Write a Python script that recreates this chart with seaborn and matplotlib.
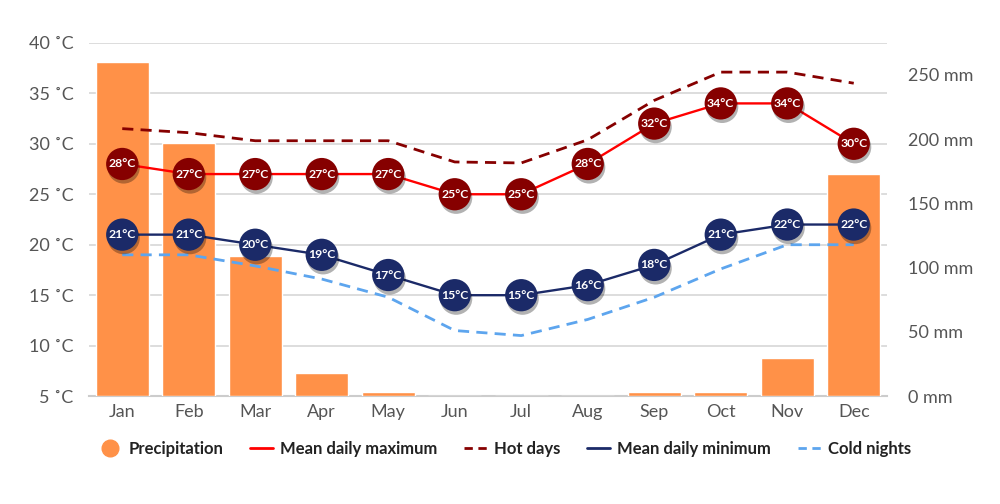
import numpy as np
import pandas as pd
import seaborn as sns
import matplotlib.pyplot as plt
import matplotlib.patheffects as pe
from matplotlib.lines import Line2D

# values
months = ["Jan", "Feb", "Mar", "Apr", "May", "Jun", "Jul", "Aug", "Sep", "Oct", "Nov", "Dec"]
precip_mm = [260, 197, 109, 18, 3, 0, 0, 0, 3, 3, 30, 173]
mean_max = [28, 27, 27, 27, 27, 25, 25, 28, 32, 34, 34, 30]
hot_days = [31.5, 31.1, 30.3, 30.3, 30.3, 28.2, 28.1, 30.4, 34.3, 37.1, 37.1, 36.0]
mean_min = [21, 21, 20, 19, 17, 15, 15, 16, 18, 21, 22, 22]
cold_nights = [19.0, 19.0, 17.9, 16.6, 14.8, 11.5, 11.0, 12.6, 14.8, 17.6, 20.0, 20.0]
temp_ticks = [5, 10, 15, 20, 25, 30, 35, 40]
precip_ticks = [0, 50, 100, 150, 200, 250]

orange = "#FF9148"
red = "#FF0000"
dark_red = "#860000"
navy = "#1B2A68"
light_blue = "#5DA5EE"
grey_txt = "#555555"

df = pd.DataFrame({
    "month": months,
    "x": np.arange(len(months)),
    "precip": precip_mm,
    "mean_max": mean_max,
    "hot_days": hot_days,
    "mean_min": mean_min,
    "cold_nights": cold_nights,
})

sns.set_theme(style="white")
plt.rcParams["font.family"] = ["Lato", "DejaVu Sans"]

fig = plt.figure(figsize=(10, 5.04), dpi=100)
ax_t = fig.add_axes([0.089, 0.214, 0.798, 0.701])
ax_p = ax_t.twinx()
ax_l = ax_t.twinx()

# precipitation bars (right axis)
sns.barplot(data=df, x="month", y="precip", color=orange, saturation=1,
            width=0.8, ax=ax_p)

# temperature lines
sns.lineplot(data=df, x="x", y="hot_days", color=dark_red, lw=2,
             linestyle=(0, (4, 2.6)), ax=ax_l)
sns.lineplot(data=df, x="x", y="cold_nights", color=light_blue, lw=2,
             linestyle=(0, (4, 2.6)), ax=ax_l)
sns.lineplot(data=df, x="x", y="mean_max", color=red, lw=1.7, ax=ax_l)
sns.lineplot(data=df, x="x", y="mean_min", color=navy, lw=1.7, ax=ax_l)

shadow = [pe.SimplePatchShadow(offset=(1, -2.5), shadow_rgbFace="black", alpha=0.3),
          pe.Normal()]
for col, c in [("mean_max", dark_red), ("mean_min", navy)]:
    sns.scatterplot(data=df, x="x", y=col, s=540, color=c, edgecolor="none",
                    ax=ax_l, zorder=4)
    ax_l.collections[-1].set_path_effects(shadow)
    for i, v in enumerate(df[col]):
        ax_l.text(i, v, f"{v}°C", ha="center", va="center", color="white",
                  fontsize=8.8, fontweight="bold", zorder=5)

# temperature axis
ax_t.set_ylim(5, 40)
ax_t.set_yticks(temp_ticks)
ax_t.set_yticklabels([f"{t} ˚C" for t in temp_ticks])
ax_t.yaxis.grid(True, color="#dddddd", lw=1.4)
ax_t.set_xlim(-0.5, len(months) - 0.5)
ax_t.set_xticks(range(len(months)))
ax_t.set_xticklabels(months)
ax_t.tick_params(length=0, labelsize=13, colors=grey_txt)
ax_t.tick_params(axis="y", pad=11)
ax_t.tick_params(axis="x", pad=6)
ax_t.set_xlabel("")
ax_t.set_ylabel("")
for s in ["top", "left", "right"]:
    ax_t.spines[s].set_visible(False)
ax_t.spines["bottom"].set_color("#cccccc")
ax_t.spines["bottom"].set_linewidth(1.5)

# precipitation axis
ax_p.set_ylim(0, 275)
ax_p.set_yticks(precip_ticks)
ax_p.set_yticklabels([f"{p} mm" for p in precip_ticks])
ax_p.tick_params(length=0, labelsize=13, colors=grey_txt, pad=15)
ax_p.set_ylabel("")
ax_p.grid(False)
for s in ax_p.spines.values():
    s.set_visible(False)

# line axis
ax_l.set_ylim(5, 40)
ax_l.yaxis.set_visible(False)
ax_l.set_ylabel("")
ax_l.grid(False)
for s in ax_l.spines.values():
    s.set_visible(False)
ax_t.set_xlim(-0.5, len(months) - 0.5)

handles = [
    Line2D([], [], marker="o", ls="none", color=orange, markersize=12),
    Line2D([], [], color=red, lw=2),
    Line2D([], [], color=dark_red, lw=2, ls=(0, (3, 2))),
    Line2D([], [], color=navy, lw=2),
    Line2D([], [], color=light_blue, lw=2, ls=(0, (3, 2))),
]
labels = ["Precipitation", "Mean daily maximum", "Hot days",
          "Mean daily minimum", "Cold nights"]
fig.legend(handles, labels, loc="center", bbox_to_anchor=(0.505, 0.11), ncol=5,
           frameon=False, handlelength=1.35, columnspacing=1.6, handletextpad=0.45,
           prop={"weight": "bold", "size": 12}, labelcolor="#222222")

fig.savefig("out.png", dpi=100)
